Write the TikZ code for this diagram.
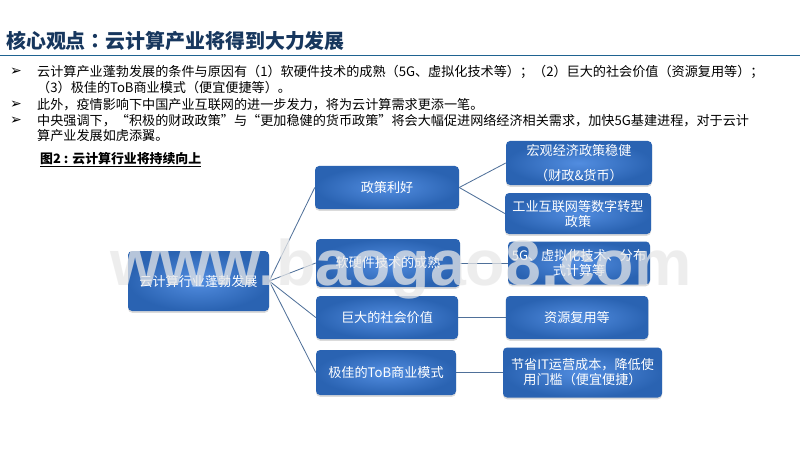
\documentclass[tikz,border=0pt]{standalone}
\usepackage{fontspec}
\setmainfont{Noto Sans CJK SC}
\newfontfamily\colonfont{Noto Sans CJK TC}
\newfontfamily\markfont{Liberation Sans}
\newfontfamily\symfont{DejaVu Sans}
\usetikzlibrary{shadows}
\definecolor{titleblue}{HTML}{17375E}
\definecolor{ruleblue}{HTML}{1F6391}
\definecolor{boxin}{HTML}{528DE0}
\definecolor{boxout}{HTML}{2A63B2}
\definecolor{linkblue}{HTML}{4F7099}
\tikzset{
  box/.style 2 args={rounded corners=3.5pt,shading=radial,inner color=boxin,outer color=boxout,
    drop shadow={shadow xshift=0pt,shadow yshift=-1.5pt,opacity=.28},
    text=white,align=center,inner sep=0pt,font=\fontsize{11.2}{12.8}\selectfont,
    minimum width=#1*.03cm,minimum height=#2*.03cm},
  link/.style={linkblue,line width=.7pt},
  bodyline/.style={anchor=west,inner sep=0pt,font=\fontsize{11.2}{13}\selectfont},
  bullet/.style={anchor=west,inner sep=0pt,font=\symfont\fontsize{12}{14}\selectfont}
}
\begin{document}
\begin{tikzpicture}[x=.03cm,y=-.03cm]
\useasboundingbox (0,0) rectangle (800,450);
\fill[white] (0,0) rectangle (800,450);

\node[anchor=west,inner sep=0pt,text=titleblue,font=\fontsize{17}{20}\selectfont\bfseries] (title) at (6,41) {核心观点{\colonfont ：}云计算产业将得到大力发展};
\draw[ruleblue,line width=1.5pt] (0,55.5) -- (800,55.5);

\node[bullet] (b1) at (10,72) {➢};
\node[bullet] (b2) at (10,105) {➢};
\node[bullet] (b3) at (10,121) {➢};
\node[bodyline] (l1) at (37,72) {云计算产业蓬勃发展的条件与原因有（1）软硬件技术的成熟（5G、虚拟化技术等）；（2）巨大的社会价值（资源复用等）；};
\node[bodyline] (l2) at (37,88) {（3）极佳的ToB商业模式（便宜便捷等）。};
\node[bodyline] (l3) at (37,105) {此外，疫情影响下中国产业互联网的进一步发力，将为云计算需求更添一笔。};
\node[bodyline] (l4) at (37,121) {中央强调下，“积极的财政政策”与“更加稳健的货币政策”将会大幅促进网络经济相关需求，加快5G基建进程，对于云计};
\node[bodyline] (l5) at (37,136) {算产业发展如虎添翼。};
\node[anchor=west,inner sep=0pt,font=\fontsize{11}{13}\selectfont\bfseries] (fig) at (40,160) {\underline{图2 : 云计算行业将持续向上}};

\node[box={141}{60}] (root) at (198.5,281) {云计算行业蓬勃发展};

\node[box={144}{43}] (policy) at (387,187.5) {政策利好};
\node[box={144}{48}] (tech) at (388,263) {软硬件技术的成熟};
\node[box={142}{43}] (social) at (387,317.5) {巨大的社会价值};
\node[box={140}{45}] (tob) at (386,372.5) {极佳的ToB商业模式};

\node[box={146}{44},font=\fontsize{11.2}{22}\selectfont] (macro) at (579,163) {宏观经济政策稳健\\（财政\&货币）};
\node[box={146}{41}] (indus) at (578,213.5) {工业互联网等数字转型\\政策};
\node[box={142}{43}] (virt) at (579,263) {5G、虚拟化技术、分布\\式计算等};
\node[box={142.5}{43}] (reuse) at (577,317.5) {资源复用等};
\node[box={159}{50}] (cost) at (582.5,372.5) {节省IT运营成本，降低使\\用门槛（便宜便捷）};

\foreach \kid in {policy,tech,social,tob}
  \draw[link] (root.east) -- (\kid.west);
\foreach \kid in {macro,indus}
  \draw[link] (policy.east) -- (\kid.west);
\draw[link] (tech.east) -- (virt.west);
\draw[link] (social.east) -- (reuse.west);
\draw[link] (tob.east) -- (cost.west);

\node[anchor=base west,inner sep=0pt,text=black!9,opacity=.74,font=\markfont\fontsize{55}{60}\selectfont\bfseries] (mark) at (110,285) {www.baogao8.com};
\end{tikzpicture}
\end{document}
